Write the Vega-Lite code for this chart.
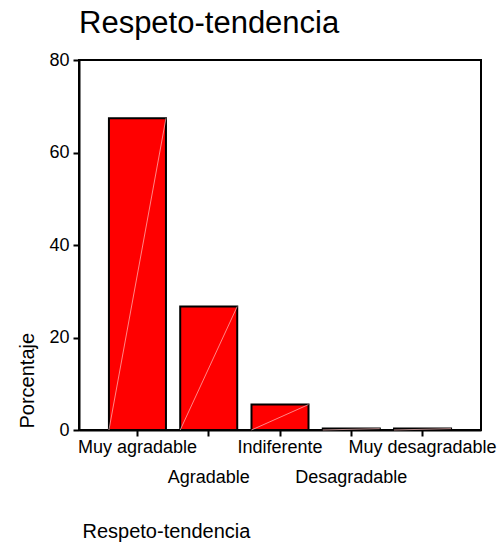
{
  "$schema": "https://vega.github.io/schema/vega-lite/v6.json",
  "autosize": {"type": "none"},
  "padding": {"left": 79, "top": 60, "right": 19, "bottom": 113},
  "width": 402,
  "height": 370,
  "background": "white",
  "config": {
    "font": "Liberation Sans",
    "view": {"stroke": "black", "strokeWidth": 2}
  },
  "title": {
    "text": "Respeto-tendencia",
    "anchor": "start",
    "frame": "group",
    "fontSize": 31,
    "fontWeight": "normal",
    "color": "black",
    "font": "Liberation Sans",
    "baseline": "alphabetic",
    "offset": -13
  },
  "data": {
    "values": [
      {"cat": "Muy agradable", "pct": 67.4},
      {"cat": "Agradable", "pct": 26.7},
      {"cat": "Indiferente", "pct": 5.5},
      {"cat": "Desagradable", "pct": 0.3},
      {"cat": "Muy desagradable", "pct": 0.3}
    ]
  },
  "layer": [
    {
      "mark": {"type": "bar", "fill": "#ff0000", "stroke": "black", "strokeWidth": 2},
      "encoding": {
        "x": {
          "field": "cat",
          "type": "nominal",
          "sort": null,
          "scale": {"paddingInner": 0.2, "paddingOuter": 0.42},
          "axis": {
            "title": "Respeto-tendencia",
            "titleFontSize": 20,
            "titleFontWeight": "normal",
            "titleColor": "black",
            "titleX": 3,
            "titleY": 107,
            "titleAlign": "left",
            "titleBaseline": "alphabetic",
            "labelAngle": 0,
            "labelFontSize": 18,
            "labelColor": "black",
            "labelBaseline": "alphabetic",
            "labelPadding": 16,
            "labelLineHeight": 30,
            "labelOverlap": false,
            "labelBound": false,
            "labelFlush": false,
            "labelLimit": 300,
            "labelExpr": "indexof(['Agradable','Desagradable'], datum.value) >= 0 ? ['', datum.value] : datum.value",
            "tickSize": 6,
            "tickColor": "black",
            "tickWidth": 2,
            "domainColor": "black",
            "domainWidth": 2
          }
        },
        "y": {
          "field": "pct",
          "type": "quantitative",
          "scale": {"domain": [0, 80], "nice": false},
          "axis": {
            "title": "Porcentaje",
            "titleFontSize": 20,
            "titleFontWeight": "normal",
            "titleColor": "black",
            "titleAngle": 270,
            "titleX": -46,
            "titleY": 368,
            "titleAlign": "left",
            "titleBaseline": "alphabetic",
            "values": [0, 20, 40, 60, 80],
            "grid": false,
            "labelFontSize": 18,
            "labelColor": "black",
            "labelPadding": 4,
            "tickSize": 6,
            "tickColor": "black",
            "tickWidth": 2,
            "domainColor": "black",
            "domainWidth": 2
          }
        }
      }
    },
    {
      "mark": {"type": "rule", "color": "#ffc0c0", "strokeWidth": 0.7, "x2Offset": {"expr": "-bandwidth('x')/2"}},
      "encoding": {
        "x": {"field": "cat", "type": "nominal", "sort": null, "bandPosition": 1},
        "x2": {"field": "cat"},
        "y": {"field": "pct", "type": "quantitative"},
        "y2": {"datum": 0}
      }
    }
  ]
}
